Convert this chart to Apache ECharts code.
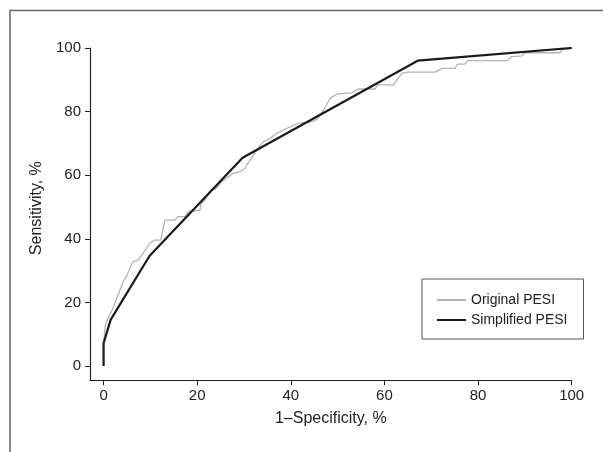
<!DOCTYPE html>
<html>
<head>
<meta charset="utf-8">
<script src="https://cdn.jsdelivr.net/npm/echarts@6/dist/echarts.min.js"></script>
<style>
html,body{margin:0;padding:0;background:#fff;}
#chart{width:603px;height:452px;}
</style>
</head>
<body>
<div id="chart"></div>
<script>
// ROC curves: x = 1 - specificity (%), y = sensitivity (%)
const origX = [0, 0, 0.2, 0.4, 0.8, 1.5, 2.0, 2.7, 3.5, 4.2, 4.9, 5.6, 6.3, 7.4, 8.4, 9.9, 10.9, 12.2, 13.1, 15.2, 15.9, 17.4, 18.1, 20.6, 20.8, 21.7, 22.8, 23.8, 25.3, 27.7, 29.2, 30.2, 30.6, 32.0, 32.7, 34.1, 35.5, 37.0, 39.9, 41.6, 44.5, 45.5, 47.0, 48.4, 49.8, 53.0, 54.4, 58.0, 58.5, 61.9, 63.7, 64.8, 70.8, 72.3, 75.1, 75.6, 77.2, 77.7, 86.2, 87.2, 89.4, 89.9, 97.5, 97.9, 100];
const origY = [0, 7, 10, 13, 14.5, 16.6, 18.1, 20.8, 23.9, 26.5, 28.1, 30.7, 32.8, 33.3, 35.4, 38.6, 39.6, 39.6, 45.9, 45.9, 47.0, 47.0, 48.5, 49.0, 51.0, 52.2, 55.3, 55.5, 58.0, 60.6, 61.1, 62.2, 63.2, 66.4, 67.9, 70.5, 71.5, 73.2, 75.3, 76.3, 76.8, 77.5, 80.5, 84.2, 85.5, 85.9, 87.1, 87.1, 88.4, 88.4, 92.0, 92.4, 92.4, 93.6, 93.6, 94.9, 94.9, 96.0, 96.0, 97.3, 97.5, 98.5, 98.5, 99.4, 100];
const simpX = [0, 0, 1.5, 9.8, 29.7, 67.1, 100];
const simpY = [0, 7.1, 14.5, 34.6, 65.5, 96.0, 100];
const tickValues = [0, 20, 40, 60, 80, 100];
const seriesNames = ['Original PESI', 'Simplified PESI'];
const xTitle = '1\u2013Specificity, %';
const yTitle = 'Sensitivity, %';

const zip = (xs, ys) => xs.map((x, i) => [x, ys[i]]);
const FONT = "'Liberation Sans', Arial, sans-serif";

const chart = echarts.init(document.getElementById('chart'), null, {renderer: 'canvas'});
chart.setOption({
  animation: false,
  backgroundColor: '#fff',
  grid: {left: 90, right: 31.3, top: 48, bottom: 71.7, containLabel: false},
  graphic: [{
    type: 'polyline',
    shape: {points: [[10, 452], [10, 10.5], [603, 10.5]]},
    style: {stroke: '#666', lineWidth: 1.5, fill: null},
    silent: true
  }],
  xAxis: {
    type: 'value', min: -2.9, max: 100,
    name: xTitle, nameLocation: 'middle', nameGap: 30,
    nameTextStyle: {fontFamily: FONT, fontSize: 16, color: '#222'},
    axisLine: {show: true, onZero: false, lineStyle: {color: '#222', width: 1.2}},
    axisTick: {show: true, length: 5, customValues: tickValues, lineStyle: {color: '#222', width: 1}},
    axisLabel: {customValues: tickValues, margin: 8, fontFamily: FONT, fontSize: 15, color: '#222'},
    splitLine: {show: false}
  },
  yAxis: {
    type: 'value', min: -4.5, max: 100,
    name: yTitle, nameLocation: 'middle', nameGap: 40, nameRotate: 90,
    nameTextStyle: {fontFamily: FONT, fontSize: 16, color: '#222', padding: [0, 0, 0, 12]},
    axisLine: {show: true, onZero: false, lineStyle: {color: '#222', width: 1.2}},
    axisTick: {show: true, length: 5, customValues: tickValues, lineStyle: {color: '#222', width: 1}},
    axisLabel: {customValues: tickValues, margin: 9, fontFamily: FONT, fontSize: 15, color: '#222'},
    splitLine: {show: false}
  },
  legend: {
    orient: 'vertical', left: 422, top: 279,
    padding: [14, 16, 12, 14],
    itemWidth: 29, itemHeight: 14, itemGap: 6,
    borderColor: '#555', borderWidth: 1, backgroundColor: '#fff',
    itemStyle: {opacity: 0},
    textStyle: {fontFamily: FONT, fontSize: 14, color: '#222'},
    data: seriesNames
  },
  series: [
    {
      name: seriesNames[0], type: 'line', symbol: 'none',
      data: zip(origX, origY),
      lineStyle: {color: '#b3b3b3', width: 1.3},
      itemStyle: {color: '#b3b3b3'},
      z: 2
    },
    {
      name: seriesNames[1], type: 'line', symbol: 'none',
      data: zip(simpX, simpY),
      lineStyle: {color: '#1a1a1a', width: 2.2},
      itemStyle: {color: '#1a1a1a'},
      z: 3
    }
  ]
});
</script>
</body>
</html>
